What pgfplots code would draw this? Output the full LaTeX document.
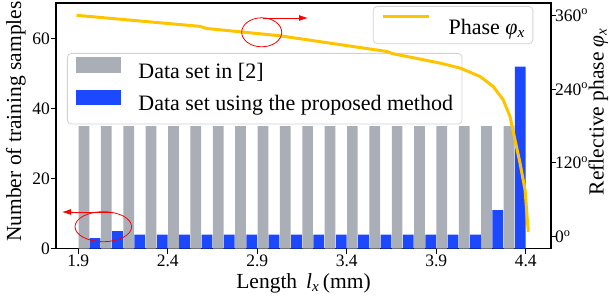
\documentclass[border=0pt]{standalone}
\usepackage{fontspec}
\setmainfont{Liberation Serif}
\usepackage{pgfplots}
\usepackage{pgfplotstable}
\pgfplotsset{compat=1.18}
\usetikzlibrary{arrows.meta}
\definecolor{bargray}{RGB}{170,174,182}
\definecolor{barblue}{RGB}{28,72,255}
\definecolor{phasegold}{RGB}{255,196,0}
\definecolor{legframe}{RGB}{210,210,210}
\newcommand\ff{\fontsize{21.5}{25.8}\selectfont}
\newcommand\fl{\fontsize{22}{26.4}\selectfont}
\newcommand\ft{\fontsize{17.5}{21}\selectfont}
\pgfplotstableread{
x gray blue
1.9 35 3
2.025 35 5
2.15 35 4
2.275 35 4
2.4 35 4
2.525 35 4
2.65 35 4
2.775 35 4
2.9 35 4
3.025 35 4
3.15 35 4
3.275 35 4
3.4 35 4
3.525 35 4
3.65 35 4
3.775 35 4
3.9 35 4
4.025 35 4
4.15 35 11
4.275 35 52
}\bars
\pgfplotstableread{
x phase
1.89 360
2.58 342
2.617 338.6
3.027 326.7
3.623 301.2
3.66 297.4
3.921 282.3
4.033 274.2
4.145 260.5
4.218 244.2
4.274 222.5
4.312 195.4
4.34 157.4
4.368 119.5
4.396 76
4.414 8
}\phase
\begin{document}
\ff
\begin{tikzpicture}
\useasboundingbox (0,0) rectangle (610pt,303pt);
\begin{axis}[
  at={(56pt,54.3pt)}, anchor=south west, scale only axis,
  width=495pt, height=245.7pt,
  xmin=1.7754, xmax=4.541, ymin=0, ymax=70.2,
  xtick={1.9,2.4,2.9,3.4,3.9,4.4}, xticklabels={1.9,2.4,2.9,3.4,3.9,4.4},
  ytick={0,20,40,60}, yticklabels={0,20,40,60},
  tick align=outside, xtick pos=left, ytick pos=left, major tick length=5pt,
  axis line style={line width=1.2pt},
  every tick/.style={black, line width=1pt},
  tick label style={font=\ft},
  xticklabel style={inner sep=0pt, yshift=-1pt},
  yticklabel style={inner sep=0pt, xshift=-1pt},
  xlabel={Length \,\textit{l}\textsubscript{\textit{x}}\,(mm)},
  xlabel style={font=\ff, at={(axis description cs:0.5,-0.1624)}, anchor=base},
  ylabel={Number of training samples},
  ylabel style={font=\ff, at={(axis description cs:-0.0707,0.5177)}, anchor=base},
  legend cell align=left,
  legend style={at={(0.0222,0.7965)}, anchor=north west, draw=legframe, line width=0.8pt,
    rounded corners=4pt, fill=white, fill opacity=0.8, text opacity=1,
    inner xsep=9pt, inner ysep=4pt, row sep=2pt, column sep=17pt,
    nodes={inner sep=0pt, text height=20.3pt, text depth=9.2pt}, font=\fl},
]
\addplot[ybar, bar width=0.06, bar shift=0.03125, fill=bargray, draw=none,
  legend image code/.code={\fill[bargray, sharp corners, fill opacity=1] (0pt,0pt) rectangle (45pt,15.6pt);}]
  table[x=x, y=gray]{\bars};
\addlegendentry{Data set in [2]}
\addplot[ybar, bar width=0.06, bar shift=0.09375, fill=barblue, draw=none,
  legend image code/.code={\fill[barblue, sharp corners, fill opacity=1] (0pt,0pt) rectangle (45pt,15.6pt);}]
  table[x=x, y=blue]{\bars};
\addlegendentry{Data set using the proposed method}
\end{axis}
\begin{axis}[
  at={(56pt,54.3pt)}, anchor=south west, scale only axis,
  width=495pt, height=245.7pt,
  xmin=1.7754, xmax=4.541, ymin=-19.5, ymax=380,
  axis x line=none, axis y line*=right,
  ytick={0,120,240,360},
  yticklabels={0\textsuperscript{o},120\textsuperscript{o},240\textsuperscript{o},360\textsuperscript{o}},
  tick align=outside, major tick length=5pt,
  axis line style={line width=1.2pt},
  every tick/.style={black, line width=1pt},
  tick label style={font=\ft},
  yticklabel style={inner sep=0pt, xshift=-1pt},
  ylabel={Reflective phase \textit{φ}\textsubscript{\textit{x}}},
  ylabel style={font=\ff, at={(axis description cs:1.1061,0.5584)}, anchor=base},
  legend style={at={(0.9642,0.9878)}, anchor=north east, draw=legframe, line width=0.8pt,
    rounded corners=4pt, fill=white, fill opacity=0.8, text opacity=1,
    inner xsep=8pt, inner ysep=4pt, column sep=17.7pt,
    nodes={inner sep=0pt, text height=24pt, text depth=5.3pt}, font=\fl},
]
\addplot[phasegold, line width=3pt, line join=round,
  legend image code/.code={\draw[phasegold, line width=3pt, sharp corners, draw opacity=1] (0pt,8.5pt) -- (46.6pt,8.5pt);}]
  table[x=x, y=phase]{\phase};
\addlegendentry{Phase \textit{φ}\textsubscript{\textit{x}}}
\end{axis}
\draw[red, line width=0.8pt] (261.7pt,270.7pt) ellipse [x radius=20pt, y radius=14.5pt];
\draw[red, line width=0.8pt, -{Latex[length=9pt,width=6pt]}] (263pt,285pt) -- (308pt,285pt);
\draw[red, line width=0.8pt] (103.3pt,76.3pt) ellipse [x radius=28.3pt, y radius=15pt];
\draw[red, line width=0.8pt, -{Latex[length=9pt,width=6pt]}] (113pt,91pt) -- (62pt,91pt);
\end{tikzpicture}
\end{document}
